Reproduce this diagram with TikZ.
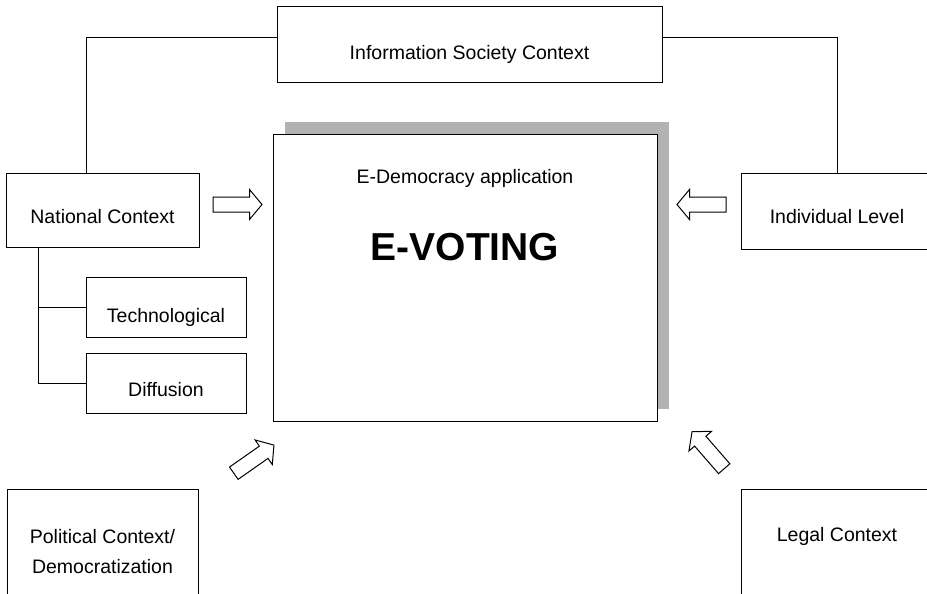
\documentclass[tikz,border=0pt]{standalone}
\usepackage{fontspec}
\setmainfont{Liberation Sans}
\begin{document}
\begin{tikzpicture}[x=1pt,y=-1pt,
  box/.style={draw, line width=1pt, inner sep=0pt},
  txt/.style={anchor=base, inner sep=0pt, font=\fontsize{19.5}{24}\selectfont},
  conn/.style={line width=1pt},
  blockarrow/.style={draw, line width=1pt, fill=white, line join=miter},
  barrow/.pic={\draw[blockarrow] (0,-7.5) -- (36.5,-7.5) -- (36.5,-15) -- (49,0) -- (36.5,15) -- (36.5,7.5) -- (0,7.5) -- cycle;}]
\clip (0,0) rectangle (927,594);
\fill[white] (0,0) rectangle (927,594);
% central box with shadow
\fill[black!30] (285,122) rectangle (669,409);
\node[box, fill=white, minimum width=384pt, minimum height=287pt] (ev) at (465,277.5) {};
\node[txt] (evT1) at (465,183) {E-Democracy application};
\node[txt, font=\fontsize{39}{44}\selectfont\bfseries] (evT2) at (465,260) {E-VOTING};
% boxes
\node[box, minimum width=385pt, minimum height=76pt] (info) at (469.5,45) {};
\node[txt] (infoT) at (469.5,60) {Information Society Context};
\node[box, minimum width=193pt, minimum height=74pt] (nat) at (102.5,210) {};
\node[txt] (natT) at (102.5,223) {National Context};
\node[box, minimum width=160pt, minimum height=60pt] (tech) at (166,307) {};
\node[txt] (techT) at (166,322) {Technological};
\node[box, minimum width=160pt, minimum height=60pt] (diff) at (166,383) {};
\node[txt] (diffT) at (166,396) {Diffusion};
\node[box, minimum width=192pt, minimum height=76pt] (ind) at (837,211) {};
\node[txt] (indT) at (837,223) {Individual Level};
\node[box, minimum width=191pt, minimum height=151pt] (pol) at (102.5,564.5) {};
\node[txt] (polT1) at (102.5,543) {Political Context/};
\node[txt] (polT2) at (102.5,573) {Democratization};
\node[box, minimum width=192pt, minimum height=151pt] (legal) at (837,564.5) {};
\node[txt] (legalT) at (837,541) {Legal Context};
% connectors
\coordinate (j1) at (86,38);
\coordinate (j2) at (837,38);
\coordinate (t) at (38,0);
\draw[conn] (nat.north -| j1) -- (j1) -- (info.west |- j1);
\draw[conn] (ind.north) -- (ind.north |- j2) -- (info.east |- j2);
\draw[conn] (nat.south -| t) |- (tech.west);
\draw[conn] (nat.south -| t) |- (diff.west);
% block arrows
\pic at (213,204.5) {barrow};
\pic[rotate=180] at (726,204.5) {barrow};
\pic[rotate=35] at (233.8,473.2) {barrow};
\pic[rotate=131] at (724.2,468.7) {barrow};
\end{tikzpicture}
\end{document}
